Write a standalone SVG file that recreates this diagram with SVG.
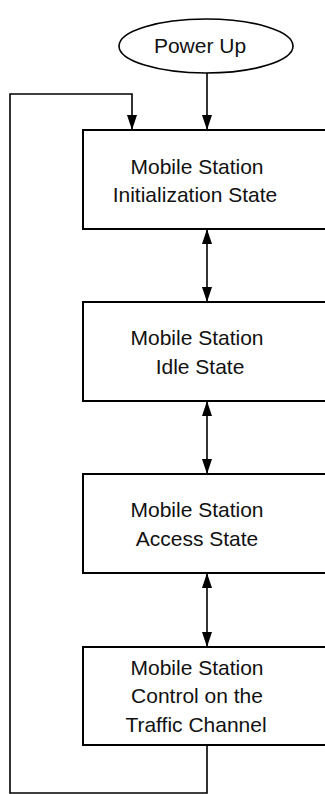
<svg xmlns="http://www.w3.org/2000/svg" width="325" height="794" viewBox="0 0 325 794">
<style>
.box{fill:#fff;stroke:#000;stroke-width:2}
.ell{fill:#fff;stroke:#000;stroke-width:1.6}
.ln{fill:none;stroke:#000;stroke-width:1.6}
text{font-family:"Liberation Sans",Arial,sans-serif;font-size:21px;fill:#111;text-anchor:middle}
</style>
<defs>
<marker id="ah2" viewBox="0 0 15 10" refX="15" refY="5" markerWidth="15" markerHeight="10" markerUnits="userSpaceOnUse" orient="auto-start-reverse">
<path d="M0,0 L15,5 L0,10 z" fill="#000"/>
</marker>
</defs>
<g id="connectors">
<line class="ln" x1="207" y1="73" x2="207" y2="130" marker-end="url(#ah2)"/>
<polyline class="ln" points="207,745 207,793 10,793 10,94 132,94 132,130" marker-end="url(#ah2)"/>
<line class="ln" x1="207" y1="229" x2="207" y2="302" marker-start="url(#ah2)" marker-end="url(#ah2)"/>
<line class="ln" x1="207" y1="401" x2="207" y2="474" marker-start="url(#ah2)" marker-end="url(#ah2)"/>
<line class="ln" x1="207" y1="573" x2="207" y2="647" marker-start="url(#ah2)" marker-end="url(#ah2)"/>
</g>
<g id="power-up">
<ellipse class="ell" cx="206" cy="46" rx="87" ry="27"/>
<text x="200" y="53">Power Up</text>
</g>
<g id="init-state">
<rect class="box" x="83" y="130" width="260" height="99"/>
<text x="197" y="174">Mobile Station</text>
<text x="195" y="202">Initialization State</text>
</g>
<g id="idle-state">
<rect class="box" x="83" y="302" width="260" height="99"/>
<text x="197" y="345">Mobile Station</text>
<text x="200" y="374">Idle State</text>
</g>
<g id="access-state">
<rect class="box" x="83" y="474" width="260" height="99"/>
<text x="197" y="517">Mobile Station</text>
<text x="197" y="546">Access State</text>
</g>
<g id="traffic-state">
<rect class="box" x="83" y="647" width="260" height="98"/>
<text x="197" y="675">Mobile Station</text>
<text x="197" y="703">Control on the</text>
<text x="196" y="732">Traffic Channel</text>
</g>
</svg>
